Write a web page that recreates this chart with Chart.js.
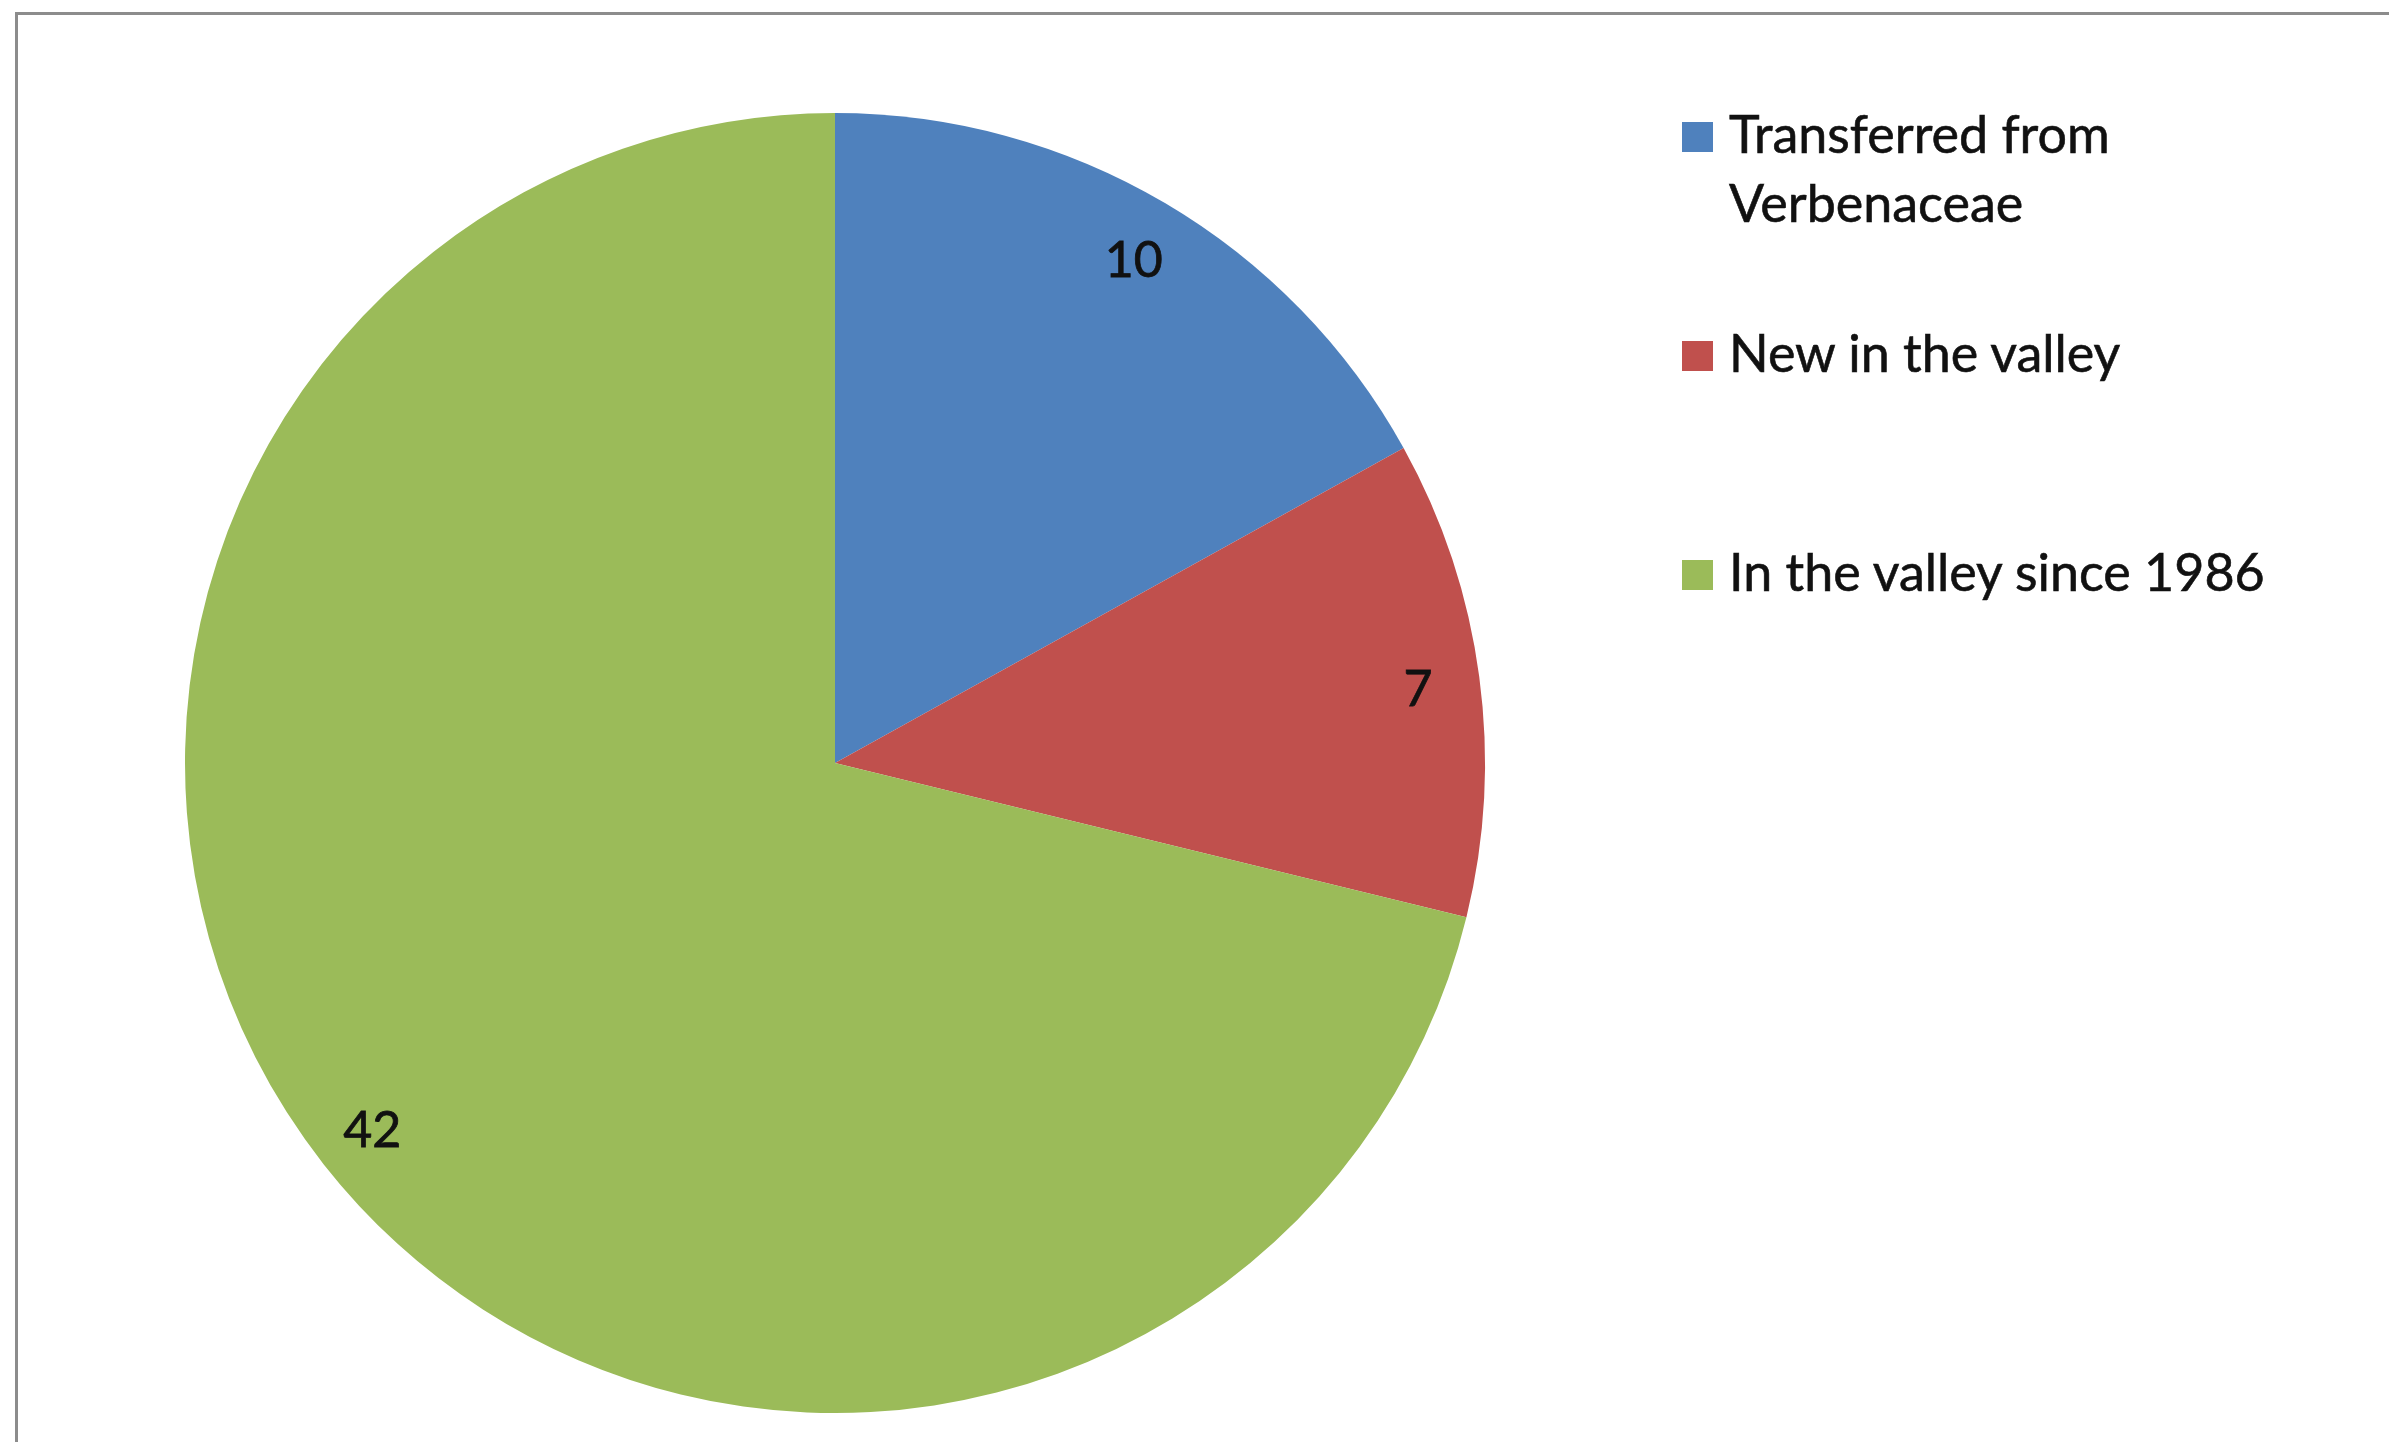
<!DOCTYPE html>
<html lang="en">

<head>
  <meta charset="UTF-8">
  <script src="https://cdn.jsdelivr.net/npm/chart.js"></script>
  <title>Pie</title>
  <style>
    body { margin: 0; background: #fff; overflow: hidden; }
    .wrap { position: relative; width: 2389px; height: 1442px; }
    .moldura {
      position: absolute; left: 15px; top: 12px; width: 3000px; height: 3000px;
      border-top: 3px solid #8c8c8c; border-left: 3px solid #8c8c8c;
    }
    #legenda {
      position: absolute; left: 1682px; top: 99px;
      font-family: Lato, "Open Sans", sans-serif; font-size: 52px; color: #111;
      -webkit-text-stroke: 0.6px #111;
    }
    .item { display: flex; height: 219px; }
    .quadrado { width: 31px; height: 30px; margin-top: 23px; margin-right: 16px; flex: none; }
    .texto { line-height: 69px; white-space: nowrap; }
  </style>
</head>

<body>
  <div class="wrap">
    <div class="moldura"></div>
    <canvas id="grafico"></canvas>
    <div id="legenda"></div>
  </div>
</body>

</html>
<script>
  // dados
  var categorias = [["Transferred from", "Verbenaceae"], "New in the valley", "In the valley since 1986"]
  var valores = [10, 7, 42]
  var cores = ["#4F81BD", "#C0504D", "#9BBB59"]

  // rotulos dentro das fatias
  const rotulosFatias = {
    id: "rotulosFatias",
    afterDatasetsDraw(chart) {
      const ctx = chart.ctx
      const meta = chart.getDatasetMeta(0)
      ctx.save()
      ctx.font = "50px Lato, 'Open Sans', sans-serif"
      ctx.fillStyle = "#111"
      ctx.strokeStyle = "#111"
      ctx.lineWidth = 0.8
      ctx.textAlign = "center"
      ctx.textBaseline = "middle"
      meta.data.forEach((arco, i) => {
        const p = arco.getProps(["x", "y", "startAngle", "endAngle", "outerRadius"])
        const meio = (p.startAngle + p.endAngle) / 2
        const r = p.outerRadius * 0.905
        const x = p.x + Math.cos(meio) * r
        const y = p.y + Math.sin(meio) * r + 5
        ctx.fillText(valores[i], x, y)
        ctx.strokeText(valores[i], x, y)
      })
      ctx.restore()
    }
  }

  function carregarGrafico() {
    const canvas = document.getElementById("grafico")
    canvas.width = 2389
    canvas.height = 1442
    canvas.style.position = "absolute"
    canvas.style.left = "0"
    canvas.style.top = "0"

    new Chart(canvas, {
      type: "pie",
      data: {
        labels: categorias,
        datasets: [{
          data: valores,
          backgroundColor: cores,
          borderWidth: 0,
          hoverOffset: 0,
        }],
      },
      options: {
        responsive: false,
        animation: false,
        layout: {
          padding: { left: 185, top: 113, right: 904, bottom: 29 }
        },
        plugins: {
          legend: { display: false },
          tooltip: { enabled: false },
        },
      },
      plugins: [rotulosFatias],
    })
  }

  function montarLegenda() {
    const legenda = document.getElementById("legenda")
    for (var i = 0; i < categorias.length; i++) {
      const item = document.createElement("div")
      item.className = "item"
      const q = document.createElement("div")
      q.className = "quadrado"
      q.style.background = cores[i]
      const t = document.createElement("div")
      t.className = "texto"
      t.innerHTML = [].concat(categorias[i]).join("<br>")
      item.appendChild(q)
      item.appendChild(t)
      legenda.appendChild(item)
    }
  }

  carregarGrafico()
  montarLegenda()
</script>
